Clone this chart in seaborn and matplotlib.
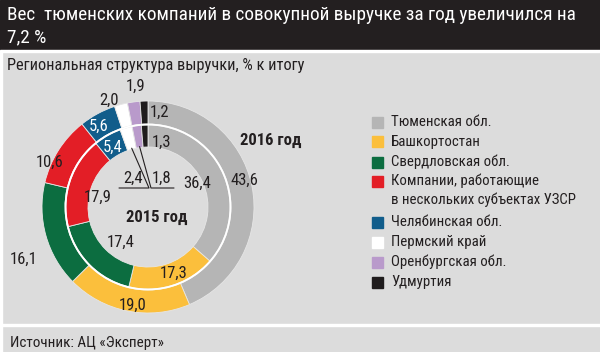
import numpy as np
import matplotlib
matplotlib.use("Agg")
import matplotlib.pyplot as plt
import seaborn as sns
from matplotlib.patches import Rectangle, Circle
from matplotlib.lines import Line2D

# ---------------- data ----------------
regions = ["Тюменская обл.", "Башкортостан", "Свердловская обл.",
           "Компании, работающие\nв нескольких субъектах УЗСР",
           "Челябинская обл.", "Пермский край", "Оренбургская обл.", "Удмуртия"]
share_2016 = [43.6, 19.0, 16.1, 10.6, 5.6, 2.0, 1.9, 1.2]
share_2015 = [36.4, 17.3, 17.4, 17.9, 5.4, 2.4, 1.8, 1.3]
labels_2016 = ["43,6", "19,0", "16,1", "10,6", "5,6", "2,0", "1,9", "1,2"]
labels_2015 = ["36,4", "17,3", "17,4", "17,9", "5,4", "2,4", "1,8", "1,3"]
colors = ["#b5b5b5", "#fbbf3c", "#0c6d40", "#e31e26", "#115d8b", "#ffffff", "#b99acb", "#1f1c1d"]

title_lines = ["Вес  тюменских компаний в совокупной выручке за год увеличился на", "7,2 %"]
subtitle = "Региональная структура выручки, % к итогу"
source = "Источник: АЦ «Эксперт»"

BG = "#dcdcdc"
DARK = "#231f20"

sns.set_theme(style="white")
plt.rcParams["font.family"] = ["Roboto Condensed", "DejaVu Sans"]
plt.rcParams["axes.facecolor"] = BG

W, H = 600, 352
fig = plt.figure(figsize=(W / 100, H / 100), dpi=100)
fig.patch.set_facecolor(BG)

def fx(px):
    return px / W

def fy(py):
    return 1 - py / H

# header / footer decorations
fig.patches.append(Rectangle((0, fy(50)), 1, 50 / H, transform=fig.transFigure, color=DARK, zorder=0))
fig.patches.append(Rectangle((0, fy(52)), 1, 2 / H, transform=fig.transFigure, color="white", zorder=0))
fig.patches.append(Rectangle((0, fy(326)), 1, 2 / H, transform=fig.transFigure, color="white", zorder=0))
fig.patches.append(Rectangle((0, 0), 1.5 / W, fy(52), transform=fig.transFigure, color="white", zorder=0))

for line, base in zip(title_lines, [20, 42]):
    fig.text(fx(7), fy(base), line, color="white", fontsize=13.9, va="baseline", ha="left")
fig.text(fx(7), fy(70), subtitle, color=DARK, fontsize=11.8, va="baseline", ha="left")
fig.text(fx(10), fy(346.5), source, color=DARK, fontsize=10.9, va="baseline", ha="left")

# ---------------- donut ----------------
cx, cy = 148, 207
S = 240
ax = fig.add_axes([fx(cx - S / 2), fy(cy + S / 2), S / W, S / H])
ax.set_aspect("equal")
ax.axis("off")

R_OUT, W_OUT = 106, 23
R_IN, W_IN = 82, 22
wedges_out, _ = ax.pie(share_2016, colors=colors, radius=R_OUT, startangle=90, counterclock=False,
                       wedgeprops=dict(width=W_OUT, edgecolor="#e6e6e6", linewidth=0.6))
wedges_in, _ = ax.pie(share_2015, colors=colors, radius=R_IN, startangle=90, counterclock=False,
                      wedgeprops=dict(width=W_IN, edgecolor="#e6e6e6", linewidth=0.6))
ax.add_patch(Circle((0, 0), (R_IN + R_OUT - W_OUT) / 2, fill=False, ec="white", lw=1.3, zorder=5))
ax.set_xlim(-S / 2, S / 2)
ax.set_ylim(-S / 2, S / 2)

def mid(w):
    return (w.theta1 + w.theta2) / 2

NUM_FS = 12

def place(w, txt, r, dth, color=DARK):
    a = np.deg2rad(mid(w) + dth)
    ax.text(r * np.cos(a), r * np.sin(a), txt, ha="center", va="center", fontsize=NUM_FS,
            color=color, zorder=6, clip_on=False)

# (radius, angle offset) per label, outer ring
out_pos = [(100, 4), (99, 2.5), (135, 7), (108, 7.7), (94, 3), (114, 5.4), (121, -2), (95, -9.4)]
out_col = [DARK, DARK, DARK, DARK, "white", DARK, DARK, DARK]
for w, t, (r, d), c in zip(wedges_out, labels_2016, out_pos, out_col):
    place(w, t, r, d, c)

in_pos = [(55, 1), (71, 3.7), (45, 7.6), (51, 8), (69, 1.3), None, None, (66, -14)]
in_col = [DARK, DARK, DARK, DARK, "white", DARK, DARK, DARK]
for w, t, p, c in zip(wedges_in, labels_2015, in_pos, in_col):
    if p is not None:
        place(w, t, p[0], p[1], c)

# leader-line labels for the two thin inner wedges
leader = {5: ((1, 19), (-29, 19), (-15, 29)), 6: ((3, 19), (26, 19), (14, 29))}
r_edge = R_IN - W_IN + 1
for i, (elbow, end, tpos) in leader.items():
    a = np.deg2rad(mid(wedges_in[i]))
    p0 = (r_edge * np.cos(a), r_edge * np.sin(a))
    ax.add_line(Line2D([p0[0], elbow[0], end[0]], [p0[1], elbow[1], end[1]], color=DARK, lw=0.8, zorder=6))
    ax.text(tpos[0], tpos[1], labels_2015[i], ha="center", va="center", fontsize=NUM_FS, color=DARK, zorder=6)

ax.text(9, -10, "2015 год", ha="center", va="center", fontsize=12, fontweight="bold", color=DARK)
ax.text(123, 67, "2016 год", ha="center", va="center", fontsize=12, fontweight="bold", color=DARK, clip_on=False)

# ---------------- legend ----------------
rows_y = [122, 142, 162, 181, 222, 242, 262, 282]
LEG_X = 391
legend_texts = []
for name, col, y in zip(regions, colors, rows_y):
    fig.patches.append(Rectangle((fx(372), fy(y + 5.5)), 11 / W, 11 / H, transform=fig.transFigure,
                                 color=col, zorder=2))
    parts = name.split("\n")
    for k, part in enumerate(parts):
        legend_texts.append(fig.text(fx(LEG_X), fy(y + 18.5 * k), part, color=DARK, fontsize=12,
                                     va="center", ha="left"))

# size the legend so its longest line ends where the reference's does
renderer = fig.canvas.get_renderer()
widest = max(t.get_window_extent(renderer).width for t in legend_texts)
leg_fs = 12 * (575 - LEG_X) / widest
for t in legend_texts:
    t.set_fontsize(leg_fs)

fig.savefig("out.png", dpi=100, facecolor=BG)
